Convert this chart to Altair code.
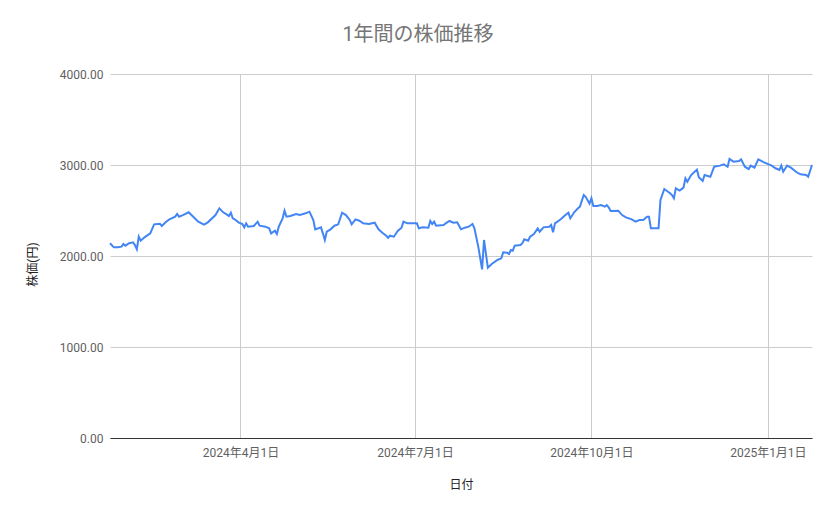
import pandas as pd
import altair as alt


# 日付と株価
dates = [
    "2024-01-24", "2024-01-26", "2024-01-28", "2024-01-30", "2024-01-31", "2024-02-01",
    "2024-02-03", "2024-02-05", "2024-02-06", "2024-02-07", "2024-02-08", "2024-02-09",
    "2024-02-11", "2024-02-14", "2024-02-16", "2024-02-19", "2024-02-20", "2024-02-22",
    "2024-02-24", "2024-02-27", "2024-02-28", "2024-02-29", "2024-03-02", "2024-03-05",
    "2024-03-07", "2024-03-10", "2024-03-13", "2024-03-15", "2024-03-19", "2024-03-21",
    "2024-03-23", "2024-03-25", "2024-03-26", "2024-03-27", "2024-03-28", "2024-03-29",
    "2024-03-31", "2024-04-02", "2024-04-03", "2024-04-04", "2024-04-05", "2024-04-08",
    "2024-04-10", "2024-04-11", "2024-04-14", "2024-04-16", "2024-04-17", "2024-04-19",
    "2024-04-20", "2024-04-21", "2024-04-23", "2024-04-24", "2024-04-25", "2024-04-27",
    "2024-04-30", "2024-05-02", "2024-05-05", "2024-05-07", "2024-05-09", "2024-05-10",
    "2024-05-13", "2024-05-14", "2024-05-15", "2024-05-16", "2024-05-18", "2024-05-20",
    "2024-05-22", "2024-05-24", "2024-05-26", "2024-05-28", "2024-05-29", "2024-05-31",
    "2024-06-02", "2024-06-04", "2024-06-07", "2024-06-10", "2024-06-12", "2024-06-14",
    "2024-06-16", "2024-06-17", "2024-06-18", "2024-06-20", "2024-06-22", "2024-06-24",
    "2024-06-25", "2024-06-27", "2024-07-02", "2024-07-03", "2024-07-05", "2024-07-08",
    "2024-07-09", "2024-07-10", "2024-07-11", "2024-07-12", "2024-07-16", "2024-07-17",
    "2024-07-19", "2024-07-21", "2024-07-23", "2024-07-25", "2024-07-27", "2024-07-29",
    "2024-07-31", "2024-08-01", "2024-08-03", "2024-08-05", "2024-08-06", "2024-08-08",
    "2024-08-10", "2024-08-13", "2024-08-15", "2024-08-16", "2024-08-18", "2024-08-19",
    "2024-08-20", "2024-08-21", "2024-08-22", "2024-08-25", "2024-08-26", "2024-08-27",
    "2024-08-29", "2024-08-30", "2024-09-01", "2024-09-03", "2024-09-04", "2024-09-06",
    "2024-09-09", "2024-09-10", "2024-09-11", "2024-09-12", "2024-09-15", "2024-09-17",
    "2024-09-19", "2024-09-20", "2024-09-22", "2024-09-24", "2024-09-25", "2024-09-27",
    "2024-09-28", "2024-09-30", "2024-10-01", "2024-10-02", "2024-10-04", "2024-10-06",
    "2024-10-08", "2024-10-09", "2024-10-10", "2024-10-11", "2024-10-15", "2024-10-17",
    "2024-10-19", "2024-10-22", "2024-10-24", "2024-10-26", "2024-10-28", "2024-10-30",
    "2024-10-31", "2024-11-01", "2024-11-05", "2024-11-06", "2024-11-08", "2024-11-11",
    "2024-11-12", "2024-11-13", "2024-11-14", "2024-11-16", "2024-11-18", "2024-11-19",
    "2024-11-20", "2024-11-22", "2024-11-25", "2024-11-26", "2024-11-28", "2024-11-29",
    "2024-12-02", "2024-12-04", "2024-12-07", "2024-12-09", "2024-12-11", "2024-12-12",
    "2024-12-14", "2024-12-17", "2024-12-18", "2024-12-20", "2024-12-22", "2024-12-23",
    "2024-12-25", "2024-12-27", "2024-12-30", "2025-01-03", "2025-01-05", "2025-01-07",
    "2025-01-08", "2025-01-09", "2025-01-11", "2025-01-13", "2025-01-16", "2025-01-18",
    "2025-01-21", "2025-01-22", "2025-01-24",
]
prices = [
    2140, 2095, 2095, 2103, 2132, 2113,
    2140, 2150, 2120, 2073, 2212, 2168,
    2205, 2249, 2348, 2355, 2330, 2370,
    2403, 2432, 2462, 2432, 2450, 2480,
    2440, 2377, 2344, 2370, 2450, 2524,
    2480, 2455, 2440, 2476, 2414, 2403,
    2370, 2352, 2315, 2359, 2322, 2330,
    2377, 2333, 2322, 2304, 2249, 2278,
    2242, 2322, 2414, 2498, 2432, 2440,
    2462, 2450, 2469, 2487, 2396, 2293,
    2315, 2249, 2176, 2267, 2293, 2333,
    2348, 2476, 2450, 2396, 2348, 2403,
    2388, 2359, 2352, 2366, 2293, 2256,
    2223, 2201, 2223, 2212, 2275, 2311,
    2377, 2359, 2359, 2304, 2315, 2311,
    2385, 2352, 2377, 2333, 2341, 2359,
    2385, 2366, 2370, 2293, 2311, 2322,
    2352, 2304, 2103, 1853, 2176, 1872,
    1912, 1956, 1974, 2040, 2037, 2022,
    2066, 2058, 2113, 2121, 2140, 2183,
    2168, 2212, 2242, 2304, 2267, 2315,
    2322, 2341, 2260, 2359, 2403, 2443,
    2476, 2414, 2480, 2524, 2542, 2670,
    2650, 2575, 2634, 2549, 2549, 2560,
    2542, 2560, 2535, 2495, 2498, 2450,
    2425, 2403, 2377, 2396, 2396, 2432,
    2432, 2304, 2304, 2615, 2736, 2689,
    2670, 2634, 2743, 2718, 2751, 2854,
    2817, 2890, 2950, 2865, 2824, 2890,
    2871, 2981, 2993, 3007, 2981, 3066,
    3037, 3044, 3062, 2981, 2956, 2993,
    2971, 3062, 3029, 2993, 2964, 2945,
    2993, 2926, 2993, 2971, 2920, 2898,
    2890, 2871, 3000,
]
y_ticks = [0, 1000, 2000, 3000, 4000]

data = pd.DataFrame({"日付": dates, "株価": prices})

FONT = "Roboto, 'Noto Sans CJK JP', sans-serif"


def d(y, m, day):
    return alt.DateTime(year=y, month=m, date=day, utc=True)


x_ticks = [d(2024, 4, 1), d(2024, 7, 1), d(2024, 10, 1), d(2025, 1, 1)]

chart = alt.Chart(data).mark_line(
    color="#4285f4",
    strokeWidth=2,
).encode(
    x=alt.X(
        "日付:T",
        scale=alt.Scale(type="utc", domain=[d(2024, 1, 24), d(2025, 1, 24)]),
        axis=alt.Axis(
            title="日付", values=x_ticks, format="%Y年%-m月%-d日",
            grid=True, gridColor="#cccccc", tickSize=0,
            domain=True, domainColor="#333333",
            labelPadding=9, titlePadding=21,
        ),
    ),
    y=alt.Y(
        "株価:Q",
        scale=alt.Scale(domain=[0, 4000]),
        axis=alt.Axis(
            title="株価(円)", values=y_ticks, format=".2f",
            grid=True, gridColor="#cccccc", tickSize=0, domain=False,
            labelPadding=7, titlePadding=20, titleY=190,
        ),
    ),
)

chart = chart.properties(
    width=702,
    height=364,
    autosize=alt.AutoSizeParams(type="none"),
    padding={"left": 102, "top": 66, "right": 15, "bottom": 70},
    title=alt.TitleParams(
        "1年間の株価推移", font=FONT, fontSize=20, fontWeight="normal",
        color="#757575", anchor="middle", dx=-43, offset=23,
    ),
)
chart = chart.configure_view(strokeWidth=0)
chart = chart.configure_axis(
    labelFont=FONT, labelFontSize=12, labelColor="#5f5f5f",
    titleFont=FONT, titleFontSize=12, titleFontWeight="normal", titleColor="#222222",
)

chart.save("out.html", embed_options={"renderer": "svg", "actions": False})
